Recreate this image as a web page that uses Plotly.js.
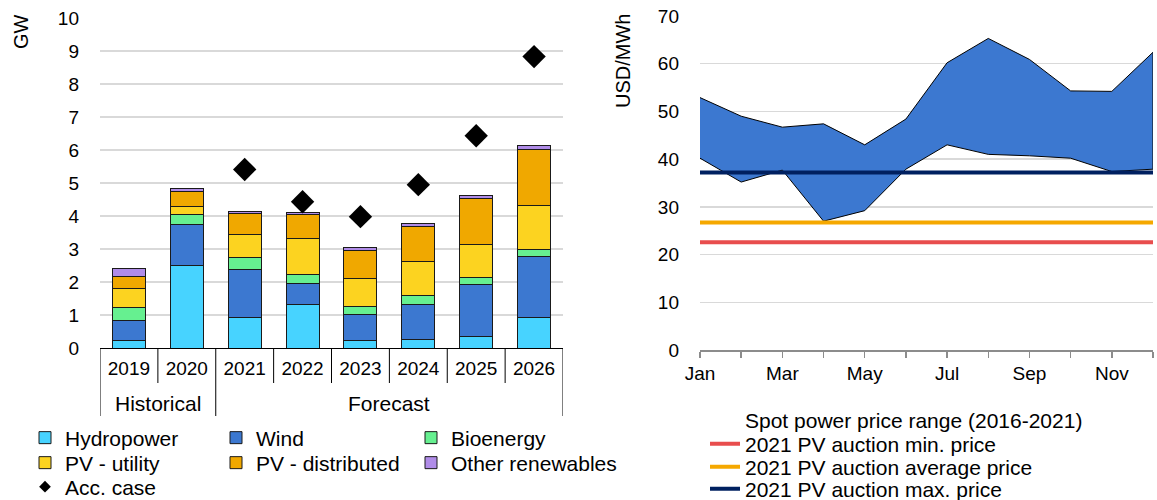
<!DOCTYPE html>
<html><head><meta charset="utf-8">
<script src="https://cdn.plot.ly/plotly-3.0.1.min.js"></script>
<style>body{margin:0;background:#fff;} #chart{width:1157px;height:500px;}</style>
</head><body><div id="chart"></div>
<script>
// ---- Left chart data (GW) ----
var years = ['2019','2020','2021','2022','2023','2024','2025','2026'];
var periods = ['Historical','Historical','Forecast','Forecast','Forecast','Forecast','Forecast','Forecast'];
var hydropower = [0.24, 2.49, 0.91, 1.31, 0.22, 0.25, 0.36, 0.91];
var wind       = [0.59, 1.25, 1.48, 0.63, 0.81, 1.07, 1.55, 1.85];
var bioenergy  = [0.41, 0.32, 0.35, 0.30, 0.23, 0.26, 0.24, 0.24];
var pvUtility  = [0.56, 0.24, 0.69, 1.08, 0.84, 1.03, 1.00, 1.32];
var pvDistributed = [0.37, 0.43, 0.65, 0.72, 0.86, 1.08, 1.37, 1.70];
var otherRenewables = [0.24, 0.10, 0.05, 0.08, 0.08, 0.08, 0.09, 0.11];
var accCase = [null, null, 5.41, 4.43, 3.98, 4.95, 6.43, 8.83];

// ---- Right chart data (USD/MWh) ----
var months = ['Jan','Feb','Mar','Apr','May','Jun','Jul','Aug','Sep','Oct','Nov','Dec'];
var monthLabels = ['Jan','','Mar','','May','','Jul','','Sep','','Nov',''];
var spotLow  = [40.2, 35.2, 37.7, 27.0, 29.2, 37.9, 43.0, 41.0, 40.7, 40.2, 37.4, 37.9];
var spotHigh = [52.9, 49.0, 46.7, 47.4, 43.0, 48.4, 60.2, 65.3, 60.9, 54.3, 54.2, 62.4];
var auctionMin = 22.6;
var auctionAvg = 26.7;
var auctionMax = 37.2;

var FONT = 'Liberation Sans, Arial, sans-serif';
var W = 1157, H = 500;
function px(x){return x/W;}
function py(y){return 1 - y/H;}
var edge = {color:'#1a1a1a', width:1};

function bar(name, vals, color, legend){
  return {type:'bar', name:name, x:years, y:vals, xaxis:'x', yaxis:'y',
    marker:{color:color, line:edge}, legend:legend, hoverinfo:'y+name'};
}

var traces = [
  bar('Hydropower', hydropower, '#47D3FF', 'legend'),
  bar('Wind', wind, '#3C78D0', 'legend2'),
  bar('Bioenergy', bioenergy, '#66F090', 'legend3'),
  bar('PV - utility', pvUtility, '#FCD320', 'legend4'),
  bar('PV - distributed', pvDistributed, '#F0A800', 'legend5'),
  bar('Other renewables', otherRenewables, '#B08CE8', 'legend6'),
  {type:'scatter', mode:'markers', name:'Acc. case', x:years, y:accCase, xaxis:'x', yaxis:'y',
    marker:{symbol:'diamond', size:18, color:'#000'}, showlegend:false},
  {type:'scatter', mode:'markers', name:'Acc. case', x:[null], y:[null], xaxis:'x2', yaxis:'y2',
    marker:{symbol:'diamond', size:9, color:'#000'}, legend:'legend7'},
  // right chart
  {type:'scatter', mode:'lines', name:'low', x:months, y:spotLow, xaxis:'x2', yaxis:'y2',
    line:{color:'#000', width:1}, showlegend:false},
  {type:'scatter', mode:'lines', name:'high', x:months, y:spotHigh, xaxis:'x2', yaxis:'y2',
    fill:'tonexty', fillcolor:'#3C78D0', line:{color:'#000', width:1}, showlegend:false},
  {type:'scatter', mode:'lines', name:'edge', x:[months[11], months[11]], y:[spotLow[11], spotHigh[11]],
    xaxis:'x2', yaxis:'y2', line:{color:'#1a2a40', width:1.5}, showlegend:false},
  {type:'scatter', mode:'lines', name:'Spot power price range (2016-2021)', x:[null], y:[null],
    xaxis:'x2', yaxis:'y2', line:{color:'rgba(0,0,0,0)', width:0}, legend:'legend8'},
  {type:'scatter', mode:'lines', name:'2021 PV auction min. price', x:[months[0], months[11]],
    y:[auctionMin, auctionMin], xaxis:'x2', yaxis:'y2', line:{color:'#E84D4D', width:4}, legend:'legend9'},
  {type:'scatter', mode:'lines', name:'2021 PV auction average price', x:[months[0], months[11]],
    y:[auctionAvg, auctionAvg], xaxis:'x2', yaxis:'y2', line:{color:'#F5A800', width:4}, legend:'legend10'},
  {type:'scatter', mode:'lines', name:'2021 PV auction max. price', x:[months[0], months[11]],
    y:[auctionMax, auctionMax], xaxis:'x2', yaxis:'y2', line:{color:'#002060', width:4}, legend:'legend11'}
];

var legFont = {family:FONT, size:21, color:'#000'};
function leg(textX, rowY){
  return {x:px(textX - 38), y:py(rowY), xanchor:'left', yanchor:'middle', orientation:'v',
    font:legFont, bgcolor:'rgba(0,0,0,0)', borderwidth:0, itemwidth:30, tracegroupgap:0,
    itemclick:false, itemdoubleclick:false};
}
var tickFont = {family:FONT, size:19, color:'#000'};

// axis decorations: category separators and period group labels
var axisY = py(348);
var shapes = [];
var annotations = [];
for (var i = 0; i <= years.length; i++) {
  var isGroupEdge = (i === 0 || i === years.length || periods[i] !== periods[i-1]);
  shapes.push({type:'line', xref:'x', yref:'paper', x0:i-0.5, x1:i-0.5,
    y0:axisY, y1:py(isGroupEdge ? 416 : 383), line:{color:'#000', width:1}});
}
var start = 0;
for (var j = 1; j <= periods.length; j++) {
  if (j === periods.length || periods[j] !== periods[start]) {
    annotations.push({text:periods[start], xref:'x', yref:'paper', x:(start + j - 1)/2, y:py(403),
      xanchor:'center', yanchor:'middle', showarrow:false, font:{family:FONT, size:21, color:'#000'}});
    start = j;
  }
}
annotations.push({text:'GW', xref:'paper', yref:'paper', x:px(21), y:py(32), xanchor:'center', yanchor:'middle',
  textangle:-90, showarrow:false, font:{family:FONT, size:20, color:'#000'}});
annotations.push({text:'USD/MWh', xref:'paper', yref:'paper', x:px(623), y:py(61), xanchor:'center', yanchor:'middle',
  textangle:-90, showarrow:false, font:{family:FONT, size:20, color:'#000'}});

var layout = {
  width:W, height:H, margin:{l:0, r:0, t:0, b:0, autoexpand:false},
  paper_bgcolor:'#fff', plot_bgcolor:'#fff',
  font:{family:FONT, size:19, color:'#000'},
  barmode:'stack', bargap:0.43,
  showlegend:true,
  xaxis:{type:'category', domain:[px(100), px(563)], anchor:'y', automargin:false,
    range:[-0.5, years.length - 0.5],
    showline:true, linecolor:'#000', linewidth:1, ticks:'', ticklabelstandoff:3,
    tickfont:tickFont, showgrid:false},
  yaxis:{domain:[py(348), py(18)], anchor:'x', range:[0,10], dtick:1, automargin:false,
    gridcolor:'#d9d9d9', gridwidth:1.5, zeroline:false, showline:false, ticks:'',
    ticklabelstandoff:20, tickfont:tickFont},
  xaxis2:{type:'category', domain:[px(700), px(1153)], anchor:'y2', automargin:false,
    range:[0, 11], tickmode:'array', tickvals:months, ticktext:monthLabels,
    ticks:'outside', ticklen:6, tickcolor:'#8c8c8c', tickwidth:1.5, showline:true,
    linecolor:'#8c8c8c', linewidth:1.5, showgrid:false, ticklabelstandoff:0,
    tickfont:tickFont},
  yaxis2:{domain:[py(350), py(16)], anchor:'x2', range:[0,70], dtick:10, automargin:false,
    gridcolor:'#d9d9d9', gridwidth:1.5, zeroline:false, showline:false, ticks:'',
    ticklabelstandoff:20, tickfont:tickFont},
  legend: leg(63, 438),
  legend2: leg(254, 438),
  legend3: leg(449, 438),
  legend4: leg(63, 463),
  legend5: leg(254, 463),
  legend6: leg(449, 463),
  legend7: leg(63, 487),
  legend8: leg(743, 420),
  legend9: leg(743, 444),
  legend10: leg(743, 467),
  legend11: leg(743, 489),
  shapes: shapes,
  annotations: annotations
};

Plotly.newPlot('chart', traces, layout, {displayModeBar:false, staticPlot:true});
</script></body></html>
